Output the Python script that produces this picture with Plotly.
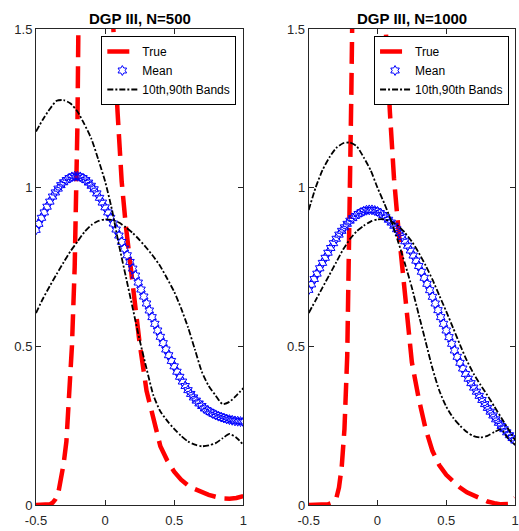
import plotly.graph_objects as go

# ---------------- data ----------------
x_ticks = [-0.5, 0, 0.5, 1]
x_tick_labels = ["-0.5", "0", "0.5", "1"]
y_ticks = [0, 0.5, 1, 1.5]
y_tick_labels = ["0", "0.5", "1", "1.5"]

titles = ["DGP III, N=500", "DGP III, N=1000"]
series_names = ["True", "Mean", "10th,90th Bands"]

# grid for the true density
x_true = [-0.5, -0.45, -0.4, -0.38, -0.36, -0.34, -0.32, -0.3, -0.28, -0.26, -0.24, -0.22,
          -0.21, -0.2, -0.19, -0.17, -0.15, -0.12, -0.09, -0.06, -0.03, 0.0, 0.03, 0.06,
          0.09, 0.12, 0.15, 0.18, 0.21, 0.25, 0.3, 0.35, 0.4, 0.45, 0.5, 0.55, 0.6, 0.65,
          0.7, 0.75, 0.8, 0.85, 0.9, 0.95, 1.0]
true_500 = [0.0, 0.0, 0.002, 0.007, 0.018, 0.035, 0.075, 0.13, 0.2, 0.33, 0.5, 0.75,
            0.92, 1.2, 1.65, 2.3, 2.7, 2.9, 2.8, 2.5, 2.1, 1.85, 1.65, 1.5,
            1.24, 1.02, 0.88, 0.76, 0.64, 0.51, 0.36, 0.27, 0.185, 0.14, 0.105, 0.08, 0.062, 0.05,
            0.04, 0.032, 0.026, 0.021, 0.02, 0.022, 0.028]
true_1000 = [0.0, 0.0, 0.0, 0.0, 0.002, 0.005, 0.01, 0.02, 0.055, 0.12, 0.24, 0.47,
             0.72, 1.0, 1.3, 2.0, 2.6, 2.9, 2.8, 2.5, 2.1, 1.85, 1.65, 1.5,
             1.24, 1.03, 0.88, 0.75, 0.62, 0.45, 0.335, 0.24, 0.17, 0.125, 0.095, 0.073, 0.055, 0.04,
             0.03, 0.019, 0.011, 0.006, 0.002, 0.003, 0.022]

# grid for the mean estimate (markers)
x_mean = [-0.5, -0.48, -0.46, -0.44, -0.42, -0.4, -0.38, -0.36, -0.34, -0.32, -0.3, -0.28,
          -0.26, -0.24, -0.22, -0.2, -0.18, -0.16, -0.14, -0.12, -0.1, -0.08, -0.06, -0.04,
          -0.02, 0.0, 0.02, 0.04, 0.06, 0.08, 0.1, 0.12, 0.14, 0.16, 0.18, 0.2, 0.22, 0.24,
          0.26, 0.28, 0.3, 0.32, 0.34, 0.36, 0.38, 0.4, 0.42, 0.44, 0.46, 0.48, 0.5, 0.52,
          0.54, 0.56, 0.58, 0.6, 0.62, 0.64, 0.66, 0.68, 0.7, 0.72, 0.74, 0.76, 0.78, 0.8,
          0.82, 0.84, 0.86, 0.88, 0.9, 0.92, 0.94, 0.96, 0.98, 1.0]
mean_500 = [0.867, 0.886, 0.905, 0.922, 0.94, 0.956, 0.972, 0.985, 0.997, 1.008, 1.017, 1.024,
            1.03, 1.034, 1.036, 1.036, 1.034, 1.03, 1.024, 1.016, 1.006, 0.995, 0.982, 0.968,
            0.953, 0.938, 0.922, 0.905, 0.887, 0.868, 0.849, 0.829, 0.808, 0.787, 0.766, 0.745, 0.723, 0.701,
            0.679, 0.657, 0.635, 0.613, 0.592, 0.571, 0.55, 0.53, 0.51, 0.49, 0.472, 0.454, 0.437, 0.42,
            0.404, 0.389, 0.375, 0.362, 0.35, 0.339, 0.329, 0.32, 0.312, 0.304, 0.298, 0.293, 0.288, 0.284,
            0.28, 0.277, 0.274, 0.271, 0.269, 0.267, 0.265, 0.264, 0.263, 0.262]
mean_1000 = [0.678, 0.695, 0.712, 0.729, 0.746, 0.763, 0.779, 0.795, 0.81, 0.825, 0.839, 0.852,
             0.864, 0.875, 0.886, 0.896, 0.904, 0.911, 0.917, 0.922, 0.926, 0.929, 0.93, 0.93,
             0.928, 0.925, 0.92, 0.914, 0.907, 0.899, 0.89, 0.88, 0.869, 0.857, 0.845, 0.831, 0.817, 0.802,
             0.786, 0.77, 0.753, 0.735, 0.716, 0.697, 0.677, 0.656, 0.635, 0.614, 0.592, 0.571, 0.55, 0.529,
             0.508, 0.487, 0.467, 0.448, 0.43, 0.413, 0.398, 0.384, 0.37, 0.357, 0.344, 0.331, 0.318, 0.306,
             0.294, 0.282, 0.27, 0.259, 0.249, 0.239, 0.229, 0.22, 0.211, 0.203]

# grid for the 10th / 90th percentile bands
x_band = [-0.5, -0.45, -0.4, -0.35, -0.3, -0.25, -0.2, -0.15, -0.1, -0.05, 0.0, 0.05, 0.1,
          0.15, 0.2, 0.25, 0.3, 0.35, 0.4, 0.45, 0.5, 0.55, 0.6, 0.65, 0.7, 0.75, 0.8, 0.85,
          0.9, 0.95, 1.0]
band_a_500 = [1.177, 1.215, 1.248, 1.274, 1.276, 1.265, 1.24, 1.2, 1.155, 1.09, 1.02, 0.93, 0.82,
              0.72, 0.62, 0.52, 0.43, 0.345, 0.295, 0.265, 0.24, 0.218, 0.2, 0.19, 0.185, 0.188, 0.195, 0.21,
              0.224, 0.212, 0.19]
band_b_500 = [0.605, 0.65, 0.69, 0.728, 0.765, 0.8, 0.83, 0.86, 0.882, 0.895, 0.9, 0.898, 0.89,
              0.875, 0.857, 0.835, 0.81, 0.783, 0.752, 0.713, 0.672, 0.62, 0.56, 0.49, 0.42, 0.375, 0.345, 0.318,
              0.325, 0.345, 0.368]
band_a_1000 = [0.93, 1.0, 1.055, 1.095, 1.125, 1.14, 1.142, 1.13, 1.095, 1.055, 1.0, 0.95, 0.895,
               0.83, 0.76, 0.685, 0.6, 0.515, 0.43, 0.36, 0.31, 0.275, 0.25, 0.23, 0.217, 0.213, 0.218, 0.23,
               0.238, 0.21, 0.19]
band_b_1000 = [0.605, 0.645, 0.685, 0.725, 0.765, 0.805, 0.838, 0.863, 0.88, 0.893, 0.9, 0.9, 0.893,
               0.88, 0.858, 0.83, 0.795, 0.755, 0.71, 0.66, 0.61, 0.558, 0.505, 0.455, 0.413, 0.378, 0.345, 0.31,
               0.275, 0.24, 0.205]

panels = [
    (true_500, mean_500, band_a_500, band_b_500),
    (true_1000, mean_1000, band_a_1000, band_b_1000),
]

# ---------------- style ----------------
FONT = "Liberation Sans, Arial, Helvetica, sans-serif"
AXC = "#262626"
W, H = 519, 531
ML, MR, MT, MB = 36, 0, 29, 26
PW = W - ML - MR
x_domains = [[0.0, (245 - ML) / PW], [(311 - ML) / PW, 1.0]]
legend_x = [(238 - ML) / PW, (513 - ML) / PW]
legend_y = (505 - 36) / (H - MT - MB)

fig = go.Figure()
for i, (tr, mn, ba, bb) in enumerate(panels):
    xa = "x" if i == 0 else "x2"
    ya = "y" if i == 0 else "y2"
    lg = "legend" if i == 0 else "legend2"
    fig.add_trace(go.Scatter(x=x_true, y=tr, mode="lines", name=series_names[0],
                             line=dict(color="#ff0000", width=4.5, dash="22px,9px"),
                             xaxis=xa, yaxis=ya, legend=lg))
    fig.add_trace(go.Scatter(x=x_mean, y=mn, mode="markers", name=series_names[1],
                             marker=dict(symbol="hexagram-open", size=7.5, color="#0000ff",
                                         line=dict(width=1, color="#0000ff")),
                             xaxis=xa, yaxis=ya, legend=lg))
    fig.add_trace(go.Scatter(x=x_band, y=ba, mode="lines", name=series_names[2],
                             line=dict(color="#000000", width=1.8, dash="6px,2px,2px,2px", shape="spline", smoothing=0.6),
                             xaxis=xa, yaxis=ya, legend=lg, legendgroup="b%d" % i))
    fig.add_trace(go.Scatter(x=x_band, y=bb, mode="lines", name=series_names[2], showlegend=False,
                             line=dict(color="#000000", width=1.8, dash="6px,2px,2px,2px", shape="spline", smoothing=0.6),
                             xaxis=xa, yaxis=ya, legend=lg, legendgroup="b%d" % i))

axis_common = dict(ticks="inside", ticklen=5, tickcolor=AXC, showline=True, linecolor=AXC,
                   linewidth=1, mirror="ticks", showgrid=False, zeroline=False,
                   tickfont=dict(family=FONT, size=13, color=AXC))
for i in range(2):
    sx = "" if i == 0 else "2"
    fig.layout["xaxis" + sx] = dict(domain=x_domains[i], range=[-0.5, 1], tickvals=x_ticks,
                                    ticktext=x_tick_labels, anchor="y" + sx, ticklabelstandoff=3,
                                    **axis_common)
    fig.layout["yaxis" + sx] = dict(domain=[0, 1], range=[0, 1.5], tickvals=y_ticks,
                                    ticktext=y_tick_labels, anchor="x" + sx, **axis_common)
    leg = dict(x=legend_x[i], y=legend_y, xanchor="right", yanchor="top", xref="paper", yref="paper",
               bgcolor="#ffffff", bordercolor="#000000", borderwidth=1, itemwidth=30,
               font=dict(family=FONT, size=12, color="#000000"), tracegroupgap=0)
    fig.layout["legend" if i == 0 else "legend2"] = leg
    fig.add_annotation(text="<b>%s</b>" % titles[i], x=sum(x_domains[i]) / 2, y=(505 - 18) / (H - MT - MB),
                       xref="paper", yref="paper", xanchor="center", yanchor="middle", showarrow=False,
                       font=dict(family=FONT, size=15, color="#000000"))

fig.update_layout(width=W, height=H, margin=dict(l=ML, r=MR, t=MT, b=MB),
                  paper_bgcolor="white", plot_bgcolor="white", showlegend=True, hovermode=False)

fig.write_html("out.html", config={"displayModeBar": False, "staticPlot": True},
               post_script="document.body.style.margin='0';document.body.style.overflow='hidden';")
